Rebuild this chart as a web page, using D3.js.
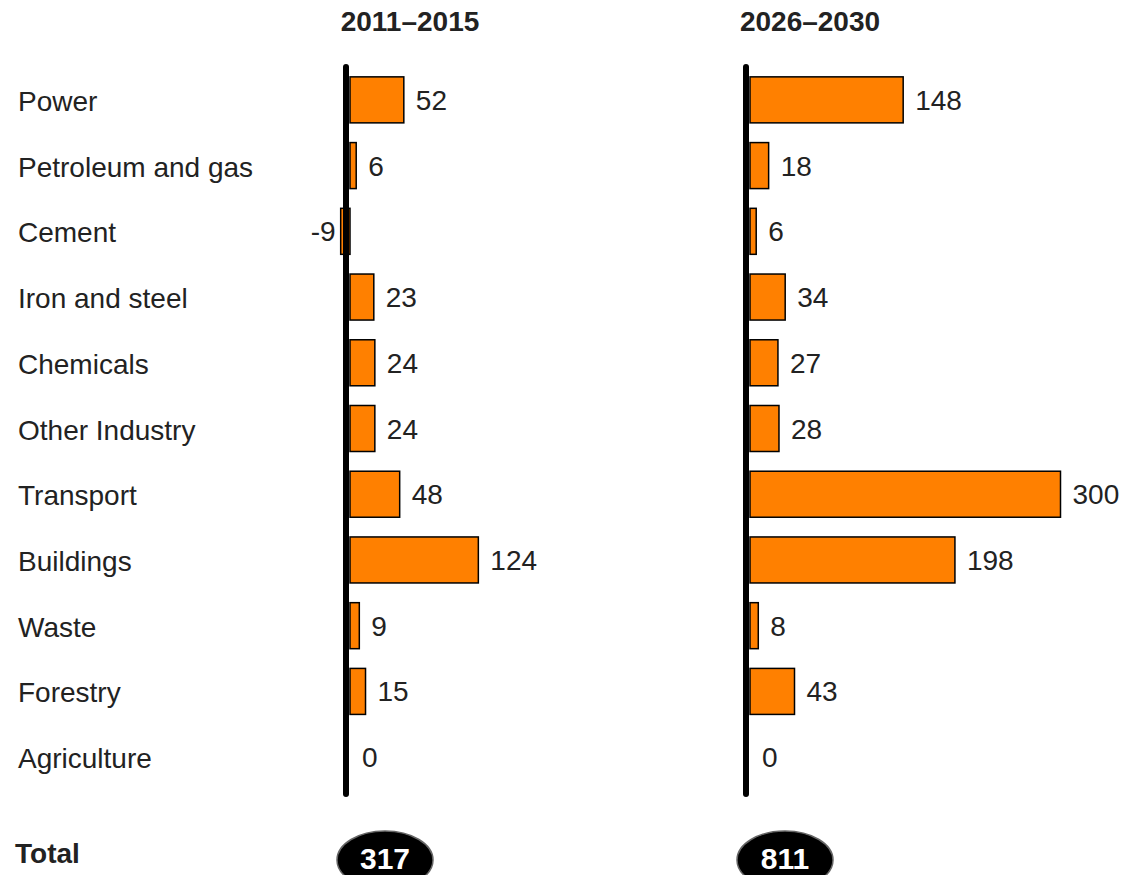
<!DOCTYPE html>
<html><head><meta charset="utf-8">
<script src="https://cdn.jsdelivr.net/npm/d3@7"></script>
<style>body{margin:0;background:#fff}svg{display:block}</style>
</head><body>
<script>
const categories = ["Power","Petroleum and gas","Cement","Iron and steel","Chemicals","Other Industry","Transport","Buildings","Waste","Forestry","Agriculture"];
const periods = ["2011–2015","2026–2030"];
const values2011 = [52,6,-9,23,24,24,48,124,9,15,0];
const values2026 = [148,18,6,34,27,28,300,198,8,43,0];
const totals = [317,811];

const W=1127,H=875;
const svg=d3.select("body").append("svg").attr("width",W).attr("height",H);
const font="Liberation Sans, Arial, sans-serif";
const txt="#222";

const y=d3.scaleBand().domain(categories).range([67,790]).paddingInner(0.3).paddingOuter(0.15);
const zeros=[350,750];
const unit=1.035;
const series=[values2011,values2026];

svg.append("g").selectAll("text").data(categories).join("text")
  .attr("x",18).attr("y",(d)=>y(d)+y.bandwidth()/2+1).attr("dy","0.36em")
  .attr("font-family",font).attr("font-size",28).attr("fill",txt).text(d=>d);

series.forEach((vals,i)=>{
  const x=d3.scaleLinear().domain([0,100]).range([zeros[i],zeros[i]+100*unit]);
  const g=svg.append("g");
  g.append("text").attr("x",x(0)+60).attr("y",31).attr("text-anchor","middle")
    .attr("font-family",font).attr("font-weight","bold").attr("font-size",28).attr("fill",txt).text(periods[i]);
  g.selectAll("rect").data(vals).join("rect")
    .attr("x",d=>Math.min(x(0),x(d))).attr("y",(d,j)=>y(categories[j]))
    .attr("width",d=>Math.abs(x(d)-x(0))).attr("height",y.bandwidth())
    .attr("fill",d=>d===0?"none":"#FF8000").attr("stroke",d=>d===0?"none":"#000").attr("stroke-width",1.5);
  g.selectAll("text.v").data(vals).join("text").attr("class","v")
    .attr("x",d=>d<0?x(d)-5:x(d)+12).attr("y",(d,j)=>y(categories[j])+y.bandwidth()/2).attr("dy","0.36em")
    .attr("text-anchor",d=>d<0?"end":"start")
    .attr("font-family",font).attr("font-size",28).attr("fill",txt).text(d=>d);
  g.append("line").attr("x1",x(0)-4).attr("x2",x(0)-4).attr("y1",67).attr("y2",794)
    .attr("stroke","#000").attr("stroke-width",6).attr("stroke-linecap","round");
  g.append("ellipse").attr("cx",x(0)+35).attr("cy",860).attr("rx",48).attr("ry",29)
    .attr("fill","#000").attr("stroke","#666").attr("stroke-width",1.5);
  g.append("text").attr("x",x(0)+35).attr("y",869).attr("text-anchor","middle")
    .attr("font-family",font).attr("font-weight","bold").attr("font-size",30).attr("fill","#fff").text(totals[i]);
});

svg.append("text").attr("x",15).attr("y",853).attr("dy","0.36em")
  .attr("font-family",font).attr("font-weight","bold").attr("font-size",28).attr("fill",txt).text("Total");
</script>
</body></html>
